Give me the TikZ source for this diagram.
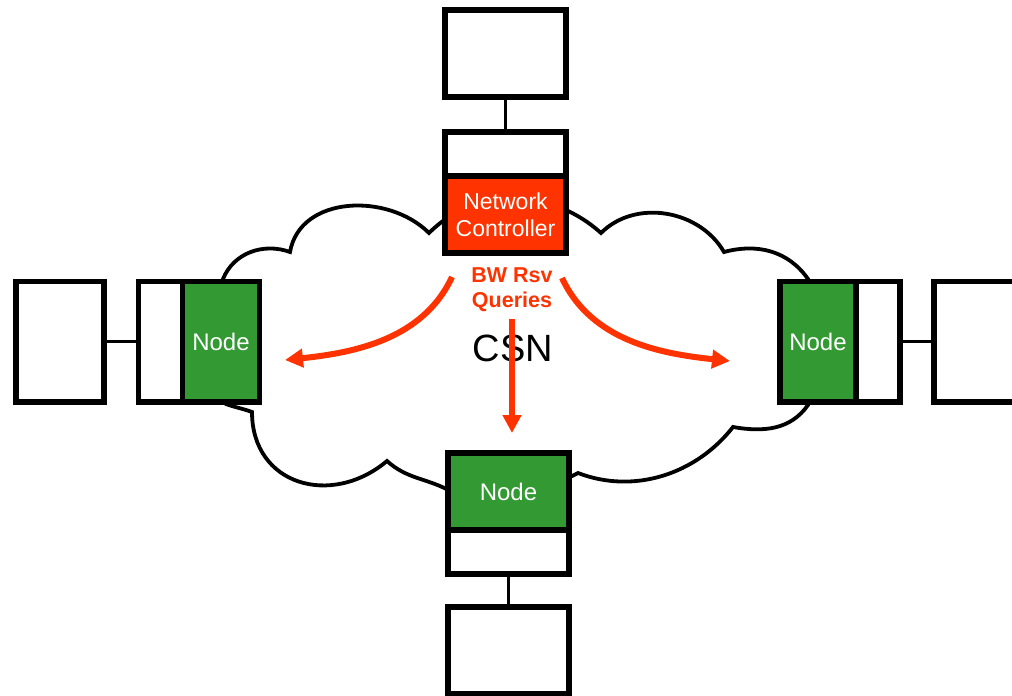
\documentclass[tikz,border=0pt]{standalone}
\usepackage{fontspec}
\setmainfont{Liberation Sans}
\usetikzlibrary{arrows.meta}
\definecolor{ctrlred}{HTML}{FF3300}
\definecolor{nodegreen}{HTML}{339933}
\begin{document}
\begin{tikzpicture}[x=1pt,y=1pt,
  box/.style={draw=black, line width=5.5pt, fill=white, inner sep=0pt, outer sep=0pt},
  greenbox/.style={box, fill=nodegreen, text=white, font=\fontsize{24}{28}\selectfont},
  redbox/.style={box, fill=ctrlred, text=white, align=center, font=\fontsize{23}{27}\selectfont},
  link/.style={draw=black, line width=3.2pt},
  query/.style={draw=ctrlred, line width=6pt, -{Triangle[length=18pt,width=18pt]}},
  cloudline/.style={draw=black, fill=white, line width=3.8pt, line join=miter}]
\clip (0,0) rectangle (1012,-696);
\fill[white] (0,0) rectangle (1012,-696);
% cloud
\path[cloudline] (223,-284) -- (223,-279)
  to[out=68,in=160] (290,-252)
  to[out=80,in=135,looseness=1.05] (429,-233)
  to[out=45,in=138] (601,-233)
  to[out=45,in=120] (724,-252)
  to[out=15,in=125] (808,-279)
  -- (820,-340) -- (808,-405)
  to[out=-125,in=-10] (733,-427)
  to[out=-128,in=-21,looseness=.95] (578,-473)
  -- (560,-482) -- (452,-492)
  to[out=150,in=-42] (387,-461)
  to[out=-140,in=-90,looseness=1.3] (252,-412)
  to[out=160,in=-20] (226,-404)
  -- (215,-395) -- (215,-300) -- cycle;
% top
\node[box, minimum width=121pt, minimum height=87pt] (top) at (505.5,-53.5) {};
\node[box, minimum width=121pt, minimum height=44pt] (ctrltop) at (505.5,-154) {};
\node[redbox, minimum width=121pt, minimum height=77pt] (ctrl) at (505.5,-214.5) {Network\\Controller};
% left
\node[box, minimum width=88pt, minimum height=120.5pt] (lfar) at (60,-341.75) {};
\node[box, minimum width=44pt, minimum height=120.5pt] (lwhite) at (160.5,-341.75) {};
\node[greenbox, minimum width=77pt, minimum height=120.5pt] (lnode) at (221,-341.75) {Node};
% right
\node[greenbox, minimum width=76pt, minimum height=120.5pt] (rnode) at (818,-341.75) {Node};
\node[box, minimum width=44pt, minimum height=120.5pt] (rwhite) at (878,-341.75) {};
\node[box, minimum width=106pt, minimum height=120.5pt] (rfar) at (987,-341.75) {};
% bottom
\node[greenbox, minimum width=121pt, minimum height=77pt] (bnode) at (508.5,-491.5) {Node};
\node[box, minimum width=121pt, minimum height=44pt] (bwhite) at (508.5,-552) {};
\node[box, minimum width=121pt, minimum height=86.5pt] (bfar) at (508.5,-650.25) {};
% links
\draw[link] (top.south) -- (ctrltop.north);
\draw[link] (lfar.east) -- (lwhite.west);
\draw[link] (rwhite.east) -- (rfar.west);
\draw[link] (bwhite.south) -- (bfar.north);
% labels
\node[text=ctrlred, font=\bfseries\fontsize{21.5}{25}\selectfont, align=center, inner sep=0pt] (label) at (512,-289.5) {BW Rsv\\Queries};
\node[font=\fontsize{38}{45}\selectfont, anchor=base, inner sep=0pt] (csn) at (513,-361) {CSN};
% query arrows
\coordinate (qL) at (452,-277);
\coordinate (tL) at (285,-360);
\coordinate (qR) at (562,-278);
\coordinate (tR) at (730,-361);
\coordinate (qM) at (512,-319);
\coordinate (tM) at (512,-433);
\draw[query] (qL) to[out=-115,in=6,looseness=0.95] (tL);
\draw[query] (qR) to[out=-65,in=174,looseness=0.95] (tR);
\draw[query] (qM) -- (tM);
\end{tikzpicture}
\end{document}
